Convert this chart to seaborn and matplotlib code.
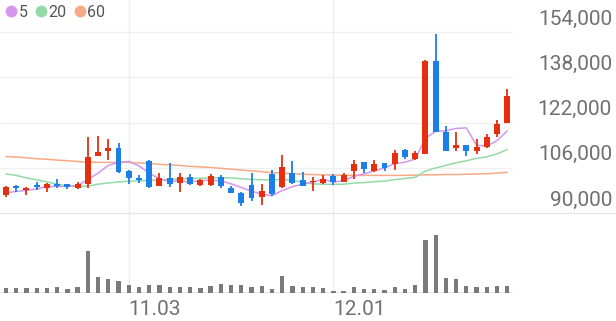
import numpy as np
import pandas as pd
import matplotlib
matplotlib.use("Agg")
import matplotlib.pyplot as plt
import matplotlib.transforms as mtransforms
from matplotlib.lines import Line2D
import seaborn as sns

# ---------------- data ----------------
day = list(range(50))
x_tick_pos = [12, 32]
x_tick_labels = ["11.03", "12.01"]

open_ = [96400, 99500, 98000, 99800, 98800, 100100, 100100, 99000, 100300, 110300,
         111900, 112900, 105000, 102400, 108400, 99500, 102300, 100700, 102800, 99900,
         99900, 102700, 98700, 97200, 100000, 95800, 103800, 99300, 104000, 101700,
         100900, 100500, 103100, 101100, 104900, 108100, 105000, 107600, 107300, 112300,
         109000, 110800, 143900, 118700, 113000, 114000, 111900, 113400, 118000, 121900]
high = [99500, 99900, 99200, 101100, 100600, 102000, 100300, 100900, 117000, 117300,
        116300, 114900, 105100, 103600, 108700, 104300, 107600, 104200, 103700, 101900,
        103700, 103400, 99400, 97500, 104200, 100100, 105200, 110600, 108400, 104600,
        102700, 103600, 103700, 104000, 108700, 108200, 108600, 107700, 112400, 112500,
        111800, 144100, 153200, 120800, 118700, 114200, 116200, 118100, 122900, 133800]
low = [95700, 97400, 96500, 98300, 97500, 98700, 98400, 98400, 98700, 110000,
       108900, 104100, 100300, 100600, 98700, 99400, 99300, 97500, 99900, 99500,
       99500, 98700, 97000, 92400, 94400, 93000, 96100, 98900, 100400, 99400,
       97800, 100100, 99800, 101000, 102000, 104100, 104600, 105000, 105200, 109200,
       108700, 110700, 118600, 111800, 112000, 110300, 110900, 113100, 117000, 121900]
close = [99300, 98800, 99000, 99300, 100300, 99400, 99300, 100400, 109800, 111700,
         113000, 104500, 102200, 101800, 99200, 102500, 100300, 102800, 100100, 101700,
         103100, 99400, 97200, 93600, 95300, 97800, 96600, 106400, 100500, 99600,
         101300, 102100, 101000, 103300, 107200, 105600, 107400, 106000, 111100, 109800,
         111100, 143900, 118700, 111900, 114000, 112000, 113300, 117000, 121600, 131300]
volume = [100000, 100000, 100000, 100000, 100000, 114000, 86000, 126000, 834000, 326000,
          280000, 246000, 166000, 126000, 154000, 154000, 126000, 126000, 126000, 100000,
          140000, 180000, 166000, 166000, 120000, 140000, 74000, 346000, 140000, 114000,
          114000, 100000, 46000, 46000, 114000, 86000, 86000, 60000, 114000, 86000,
          154000, 1054000, 1154000, 306000, 274000, 140000, 114000, 114000, 140000, 140000]
ma5 = [97200, 97600, 98000, 98500, 99340, 99360, 99460, 99740, 101840, 104120,
       106840, 107880, 108240, 106640, 104140, 102040, 101200, 101320, 100980, 101480,
       101600, 101420, 100300, 99000, 97720, 96660, 96100, 97940, 99320, 100180,
       100880, 101980, 100900, 101460, 102980, 103840, 104900, 105900, 107460, 107980,
       109080, 116380, 118920, 119080, 119920, 120100, 113980, 113640, 115580, 119040]
ma20 = [103800, 103300, 102400, 101700, 101000, 100200, 99600, 99400, 99500, 100200,
        100600, 101000, 101200, 101400, 101500, 101700, 101800, 102000, 102200, 102270,
        102460, 102490, 102400, 102115, 101865, 101785, 101650, 101950, 101485, 100880,
        100295, 100175, 100115, 100190, 100590, 100745, 101100, 101260, 101810, 102215,
        102615, 104840, 105915, 106830, 107765, 108475, 109310, 109840, 110895, 112480]
ma60 = [110000, 109800, 109500, 109200, 109000, 108700, 108500, 108200, 108000, 107900,
        107900, 107900, 107900, 107700, 107500, 107200, 107000, 106800, 106500, 106300,
        106100, 105800, 105500, 105200, 104900, 104600, 104300, 104100, 103900, 103700,
        103600, 103500, 103400, 103400, 103300, 103300, 103300, 103300, 103300, 103300,
        103400, 103500, 103500, 103600, 103600, 103700, 103800, 103900, 104100, 104400]
y_ticks = [90000, 106000, 122000, 138000, 154000]
ma_labels = ["5", "20", "60"]

# ---------------- styling ----------------
sns.set_style("white")
plt.rcParams["font.family"] = ["Roboto", "DejaVu Sans"]

UP = "#E5300F"
DOWN = "#1B7FE6"
MA_COLORS = ["#D796EE", "#92DBA4", "#F8A985"]
GRID = "#F0F0F0"
TEXT = "#707070"

W, H = 616, 321
fig = plt.figure(figsize=(W / 100, H / 100), dpi=100)
fig.patch.set_facecolor("white")

px_per_day = 10.23
x0 = -6 / px_per_day
x1 = x0 + 513 / px_per_day

ax_p = fig.add_axes([0, (H - 213) / H, 513 / W, 213 / H])
ax_v = fig.add_axes([0, (H - 293) / H, 513 / W, 80 / H])

for ax in (ax_p, ax_v):
    ax.set_facecolor("none")
    for s in ax.spines.values():
        s.set_visible(False)
    ax.set_xlim(x0, x1)
    ax.set_yticks([])
    ax.tick_params(length=0)

# price scale: 16000 won per 45.25 px
won_per_px = 16000 / 45.25
ax_p.set_ylim(90000, 90000 + 213 * won_per_px)
ax_p.set_xticks([])

# grid
for v in y_ticks[1:]:
    ax_p.axhline(v, color=GRID, lw=1, zorder=0)
ax_p.axhline(y_ticks[0], xmin=0, xmax=W / 513, color="#E6E6E6", lw=1,
             clip_on=False, zorder=0)
for xp in x_tick_pos:
    ax_p.axvline(xp, color="#EDEDED", lw=1, zorder=0)
    ax_v.axvline(xp, color="#EDEDED", lw=1, zorder=0)

# moving averages with seaborn
df = pd.DataFrame({"day": day, "ma5": ma5, "ma20": ma20, "ma60": ma60})
for col, c in zip(["ma60", "ma20", "ma5"], MA_COLORS[::-1]):
    sns.lineplot(data=df, x="day", y=col, ax=ax_p, color=c, lw=1.1, zorder=2)

# candles
o = np.array(open_); c_ = np.array(close); hi = np.array(high); lo = np.array(low)
up = c_ >= o
colors = np.where(up, UP, DOWN)
body_bottom = np.minimum(o, c_)
body_h = np.maximum(np.abs(c_ - o), 350)
ax_p.vlines(day, lo, hi, colors=colors, lw=1.3, zorder=3)
ax_p.bar(day, body_h, bottom=body_bottom, width=0.58, color=colors, zorder=4,
         linewidth=0)
ax_p.set_xlabel("")
ax_p.set_ylabel("")

# y labels on the right
trans = mtransforms.blended_transform_factory(fig.transFigure, ax_p.transData)
trans = trans + mtransforms.ScaledTranslation(0, 5.4 / 72, fig.dpi_scale_trans)
for v in y_ticks:
    ax_p.text(612 / W, v, f"{v:,}", transform=trans, ha="right", va="baseline",
              fontsize=15, color=TEXT, clip_on=False)

# volume
vdf = pd.DataFrame({"day": day, "volume": volume})
sns.barplot(data=vdf, x="day", y="volume", ax=ax_v, native_scale=True,
            color="#7A7A7A", width=0.42, saturation=1, linewidth=0, zorder=2)
ax_v.set_ylim(0, max(volume) * 80 / 57.7)
ax_v.axhline(0, color="#E2E2E2", lw=1.2, zorder=1)
ax_v.set_xlim(x0, x1)
ax_v.set_xticks(x_tick_pos)
ax_v.set_xticklabels(x_tick_labels, fontsize=15, color=TEXT, ha="left")
ax_v.tick_params(axis="x", length=0, pad=5)
ax_v.set_xlabel("")
ax_v.set_ylabel("")

# legend
handles = [Line2D([], [], marker="o", ls="", color=c, markersize=7.5) for c in MA_COLORS]
fig.legend(handles, ma_labels, loc="upper left", bbox_to_anchor=(0.003, 1.0),
           ncol=3, frameon=False, fontsize=11.5, labelcolor="#555555",
           handlelength=0.55, handletextpad=0.2, columnspacing=0.55,
           borderpad=0.3, borderaxespad=0.0)

fig.savefig("out.png", dpi=100, facecolor="white")
